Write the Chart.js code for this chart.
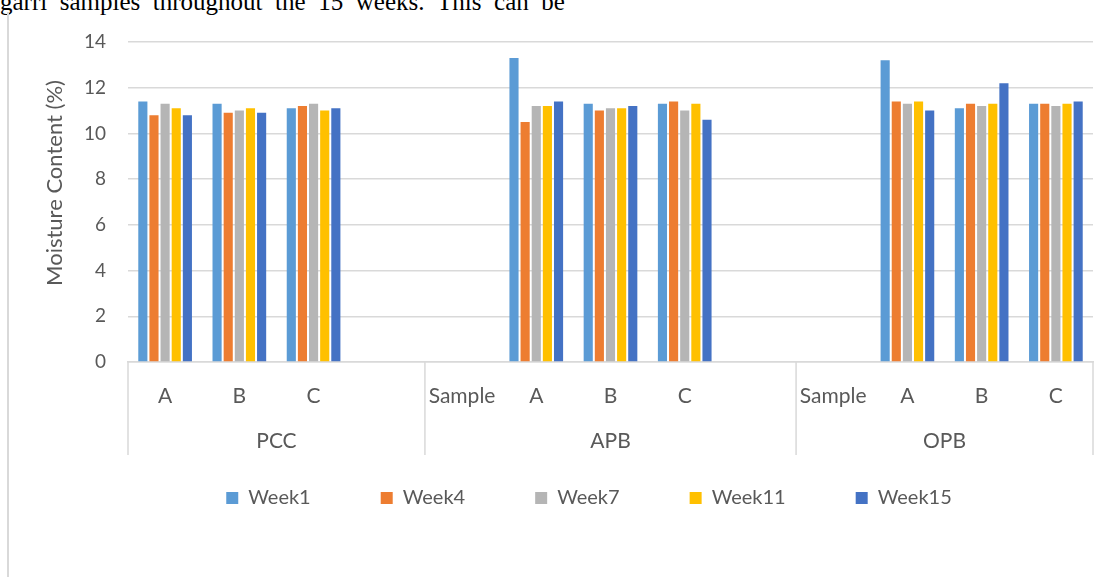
<!DOCTYPE html>
<html>
<head>
<meta charset="utf-8">
<script src="https://cdn.jsdelivr.net/npm/chart.js@4"></script>
<style>
  body { margin: 0; background: #fff; width: 1110px; height: 577px; overflow: hidden; position: relative; }
  #frame { position: absolute; left: 7px; top: 12px; width: 2px; height: 570px; background: #d9d9d9; }
  #para { position: absolute; left: 0; top: -11px; width: 565px; display: flex; justify-content: space-between;
          font-family: "Liberation Serif", serif; font-size: 25px; line-height: 25px; color: #000; }
  #chart { position: absolute; left: 0; top: 0; }
</style>
</head>
<body>
<div id="para"><span>garri</span><span>samples</span><span>throughout</span><span>the</span><span>15</span><span>weeks.</span><span>This</span><span>can</span><span>be</span></div>
<div id="frame"></div>
<canvas id="chart" width="1110" height="577"></canvas>
<script>
const categories = ["A", "B", "C", "", "Sample", "A", "B", "C", "", "Sample", "A", "B", "C"];
const groupNames = ["PCC", "APB", "OPB"];
const groupSizes = [4, 5, 4];

const week1 = [11.4, 11.3, 11.1, null, null, 13.3, 11.3, 11.3, null, null, 13.2, 11.1, 11.3];
const week4 = [10.8, 10.9, 11.2, null, null, 10.5, 11.0, 11.4, null, null, 11.4, 11.3, 11.3];
const week7 = [11.3, 11.0, 11.3, null, null, 11.2, 11.1, 11.0, null, null, 11.3, 11.2, 11.2];
const week11 = [11.1, 11.1, 11.0, null, null, 11.2, 11.1, 11.3, null, null, 11.4, 11.3, 11.3];
const week15 = [10.8, 10.9, 11.1, null, null, 11.4, 11.2, 10.6, null, null, 11.0, 12.2, 11.4];

const seriesNames = ["Week1", "Week4", "Week7", "Week11", "Week15"];
const seriesColors = ["#5B9BD5", "#ED7D31", "#B5B5B5", "#FFC000", "#4472C4"];
const yTicks = [0, 2, 4, 6, 8, 10, 12, 14];
const yTitle = "Moisture Content (%)";

const textColor = "#595959";
const lineColor = "#d9d9d9";

Chart.defaults.font.family = "Lato";

// group labels and divider lines under the category axis
const groupAxis = {
  id: "groupAxis",
  afterDraw(chart) {
    const ctx = chart.ctx;
    const x = chart.scales.x;
    const half = (x.getPixelForValue(1) - x.getPixelForValue(0)) / 2;
    const top = chart.chartArea.bottom;
    const bottom = 455;
    ctx.save();
    ctx.strokeStyle = lineColor;
    ctx.lineWidth = 1.5;
    ctx.fillStyle = textColor;
    ctx.font = "21px Lato";
    ctx.textAlign = "center";
    ctx.textBaseline = "middle";
    let start = 0;
    groupSizes.forEach((size, i) => {
      const left = x.getPixelForValue(start) - half;
      const right = x.getPixelForValue(start + size - 1) + half;
      ctx.beginPath();
      ctx.moveTo(left, top);
      ctx.lineTo(left, bottom);
      if (i === groupSizes.length - 1) {
        ctx.moveTo(right, top);
        ctx.lineTo(right, bottom);
      }
      ctx.stroke();
      ctx.fillText(groupNames[i], (left + right) / 2, 441);
      start += size;
    });
    // y axis title
    ctx.translate(55, 183);
    ctx.rotate(-Math.PI / 2);
    ctx.font = "22px Lato";
    ctx.fillText(yTitle, 0, 0);
    ctx.restore();
  }
};

const weeks = [week1, week4, week7, week11, week15];

new Chart(document.getElementById("chart"), {
  type: "bar",
  data: {
    labels: categories,
    datasets: weeks.map((data, i) => ({
      label: seriesNames[i],
      data: data,
      backgroundColor: seriesColors[i],
      categoryPercentage: 0.75,
      barPercentage: 0.82
    }))
  },
  options: {
    responsive: false,
    animation: false,
    layout: { padding: { left: 85, right: 17, top: 42, bottom: 59 } },
    scales: {
      x: {
        grid: { display: false, drawTicks: false },
        border: { display: true, color: lineColor, width: 1.5 },
        ticks: { color: textColor, font: { size: 21 }, padding: 22, autoSkip: false, maxRotation: 0 },
        afterFit(scale) { scale.height = 56; }
      },
      y: {
        min: 0,
        max: 14,
        afterBuildTicks(scale) { scale.ticks = yTicks.map(v => ({ value: v })); },
        grid: { color: lineColor, lineWidth: 1.5, drawTicks: false },
        border: { display: false },
        ticks: { color: textColor, font: { size: 19 }, padding: 22 },
        afterFit(scale) { scale.width = 43; }
      }
    },
    plugins: {
      legend: {
        position: "bottom",
        labels: { color: textColor, font: { size: 20 }, boxWidth: 12, boxHeight: 12, padding: 70 }
      },
      tooltip: { enabled: false }
    }
  },
  plugins: [groupAxis]
});
</script>
</body>
</html>
